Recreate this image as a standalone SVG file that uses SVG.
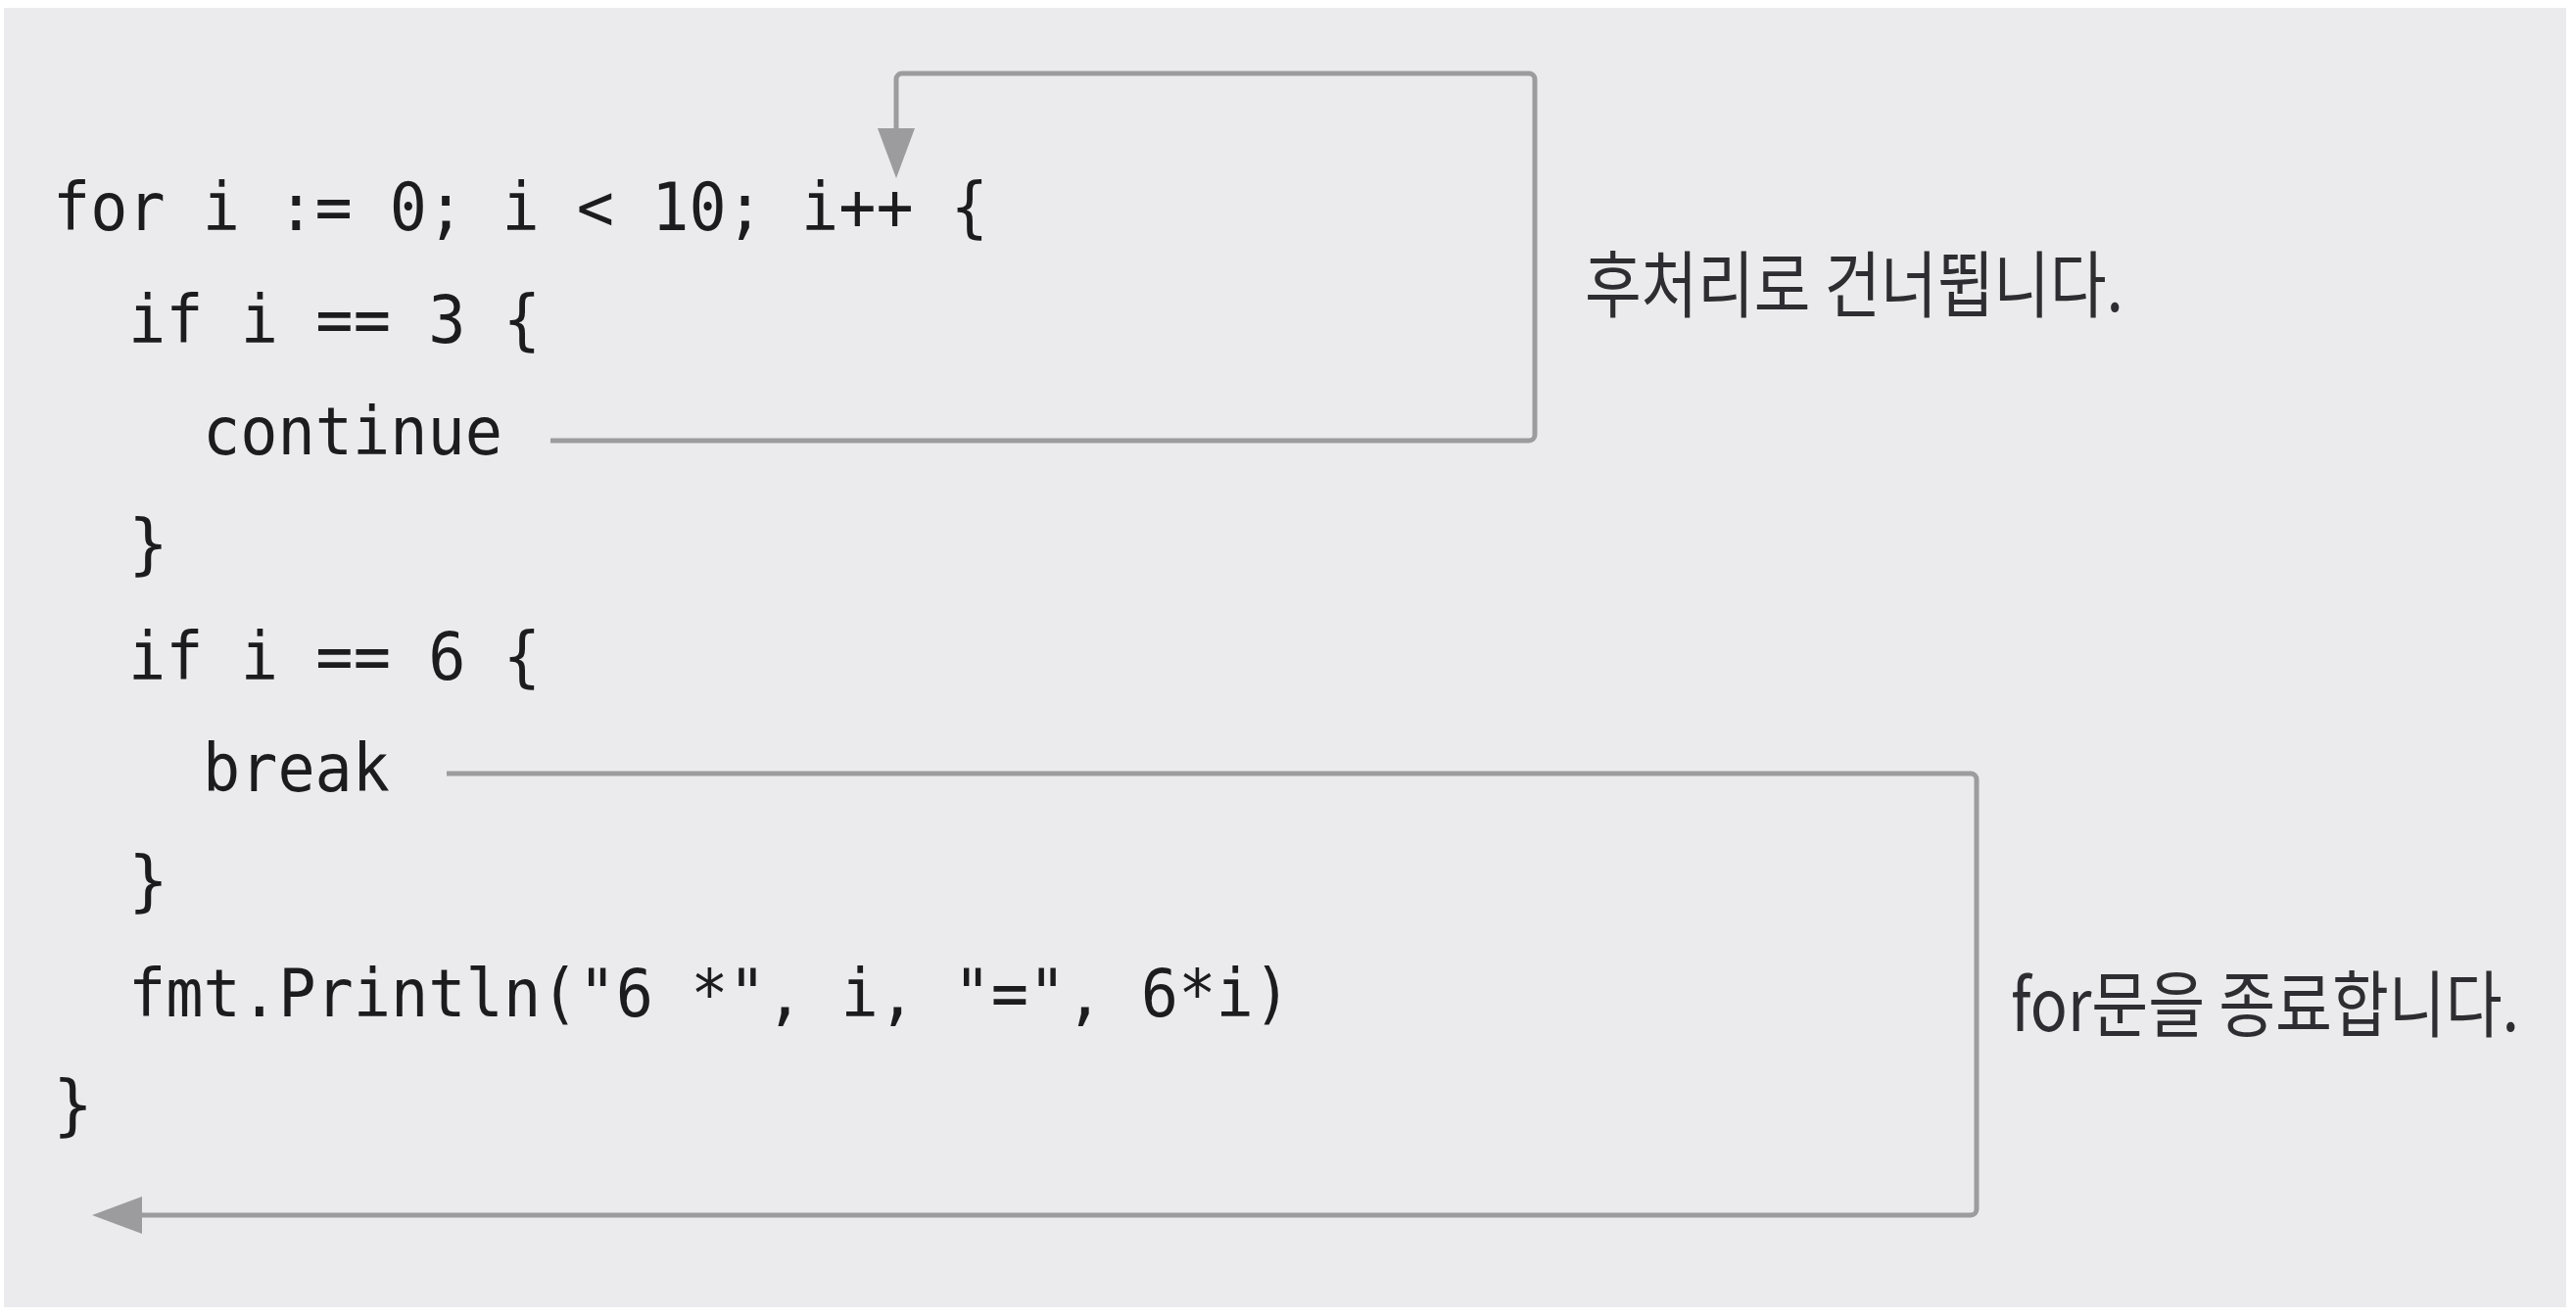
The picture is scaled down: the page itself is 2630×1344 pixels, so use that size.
<svg xmlns="http://www.w3.org/2000/svg" width="2630" height="1344" viewBox="0 0 2630 1344">
<style>
.code{font-family:"DejaVu Sans Mono","Liberation Mono",monospace;font-size:68px;fill:#1c1c1e;}
.label{font-family:"Noto Sans CJK KR","Noto Sans",sans-serif;font-size:74px;fill:#2e2e32;}
.conn{fill:none;stroke:#9c9c9e;stroke-width:5;}
</style>
<defs>
<marker id="arrow" markerUnits="userSpaceOnUse" markerWidth="52" markerHeight="40" viewBox="0 0 52 40" refX="2" refY="20" orient="auto">
<path d="M0,1 L51,20 L0,39 Z" fill="#9c9c9e"/>
</marker>
</defs>
<rect x="0" y="0" width="2630" height="1344" fill="#ffffff"/>
<rect id="panel" x="4" y="8" width="2616" height="1327" fill="#ebebed"/>
<g id="code">
<text class="code" x="54" y="235" textLength="955" lengthAdjust="spacingAndGlyphs">for i := 0; i &lt; 10; i++ {</text>
<text class="code" x="131" y="350" textLength="421" lengthAdjust="spacingAndGlyphs">if i == 3 {</text>
<text class="code" x="207" y="464" textLength="306" lengthAdjust="spacingAndGlyphs">continue</text>
<text class="code" x="131" y="579">}</text>
<text class="code" x="131" y="694" textLength="421" lengthAdjust="spacingAndGlyphs">if i == 6 {</text>
<text class="code" x="207" y="808" textLength="191" lengthAdjust="spacingAndGlyphs">break</text>
<text class="code" x="131" y="923">}</text>
<text class="code" x="131" y="1038" textLength="1187" lengthAdjust="spacingAndGlyphs">fmt.Println("6 *", i, "=", 6*i)</text>
<text class="code" x="54" y="1152">}</text>
</g>
<g id="label-continue">
<text class="label" x="1618" y="318" textLength="550" lengthAdjust="spacingAndGlyphs">후처리로 건너뜁니다.</text>
</g>
<g id="label-break">
<text class="label" x="2053" y="1053" textLength="519" lengthAdjust="spacingAndGlyphs">for문을 종료합니다.</text>
</g>
<g id="connectors">
<path id="conn-continue" class="conn" d="M562,450 H1561 A6,6 0 0 0 1567,444 V81 A6,6 0 0 0 1561,75 H921 A6,6 0 0 0 915,81 V133" marker-end="url(#arrow)"/>
<path id="conn-break" class="conn" d="M456,790 H2012 A6,6 0 0 1 2018,796 V1235 A6,6 0 0 1 2012,1241 H143" marker-end="url(#arrow)"/>
</g>
</svg>
